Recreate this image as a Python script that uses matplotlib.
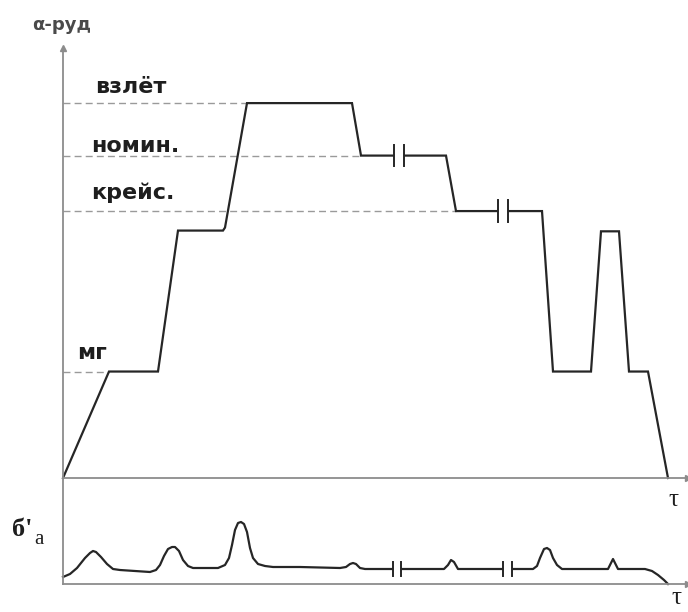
import numpy as np
import matplotlib
matplotlib.use("Agg")
import matplotlib.pyplot as plt

# ---- data ----
# throttle lever angle profile (time units, alpha units)
t_main = [0, 4.6, 9.5, 11.5, 16.0, 16.2, 18.4, 28.9, 29.8, 38.3, 39.3, 47.9, 49.0, 52.8, 53.8, 55.6, 56.6, 58.5, 60.5]
a_main = [0, 28.4, 28.4, 66.0, 66.0, 66.8, 100, 100, 86.0, 86.0, 71.2, 71.2, 28.4, 28.4, 65.8, 65.8, 28.4, 28.4, 0]

level_names = ["взлёт", "номин.", "крейс.", "мг"]
level_values = [100, 86.0, 71.2, 28.4]

main_breaks = [33.6, 43.95]

# stress response
t_low = [0, 0.7, 1.4, 2.2, 2.7, 3.0, 3.3, 3.8, 4.4, 5.0, 5.7, 7.2, 8.7, 9.3, 9.7, 10.1, 10.5, 10.9,
         11.2, 11.6, 12.0, 12.5, 13.0, 15.5, 16.2, 16.6, 16.9, 17.2, 17.5, 17.8, 18.1, 18.4, 18.7,
         19.0, 19.5, 20.2, 21.0, 23.7, 27.7, 28.3, 28.7, 29.0, 29.3, 29.7, 30.2, 38.1, 38.5, 38.8,
         39.1, 39.5, 47.0, 47.4, 47.7, 48.1, 48.4, 48.7, 49.0, 49.4, 49.9, 54.5, 54.8, 55.0, 55.2,
         55.5, 58.2, 58.9, 59.5, 60.1, 60.5]
s_low = [0.7, 1.0, 1.6, 2.6, 3.1, 3.3, 3.2, 2.7, 2.0, 1.5, 1.4, 1.3, 1.2, 1.4, 1.9, 2.8, 3.5, 3.7,
         3.7, 3.3, 2.4, 1.8, 1.6, 1.6, 1.9, 2.6, 3.9, 5.4, 6.1, 6.2, 6.0, 5.2, 3.6,
         2.6, 2.0, 1.8, 1.7, 1.7, 1.6, 1.7, 2.0, 2.1, 2.0, 1.6, 1.5, 1.5, 1.9, 2.4,
         2.2, 1.5, 1.5, 1.8, 2.6, 3.5, 3.6, 3.4, 2.6, 1.9, 1.5, 1.5, 2.1, 2.5, 2.1,
         1.5, 1.5, 1.3, 0.9, 0.4, 0.0]

low_breaks = [33.4, 44.45]

# ---- figure ----
W, H = 688, 612
fig = plt.figure(figsize=(W / 100, H / 100), dpi=100)
fig.patch.set_facecolor("white")

x0 = 63
ax = fig.add_axes([x0 / W, (H - 478) / H, (W - x0) / W, (478 - 48) / H])
axl = fig.add_axes([x0 / W, (H - 584) / H, (W - x0) / W, (584 - 478) / H])

axis_col = "#8c8c8c"
line_col = "#262626"
XMAX = 62.5

for a in (ax, axl):
    a.set_xlim(0, XMAX)
    for s in ("top", "right"):
        a.spines[s].set_visible(False)
    for s in ("left", "bottom"):
        a.spines[s].set_color(axis_col)
        a.spines[s].set_linewidth(1.3)
    a.set_xticks([])
    a.set_yticks([])
    a.patch.set_alpha(0)
    # x arrow head
    a.plot(1, 0, ">", transform=a.transAxes, color=axis_col, ms=4, clip_on=False)

ax.set_ylim(0, 114.7)
axl.set_ylim(0, 10.6)
ax.plot(0, 1, "^", transform=ax.transAxes, color=axis_col, ms=4, clip_on=False)

# main curve
t_main_a = np.array(t_main)
a_main_a = np.array(a_main)
ax.plot(t_main_a, a_main_a, color=line_col, lw=1.6, zorder=2,
        solid_joinstyle="miter", clip_on=False)

# dashed levels and labels
label_dy = {"взлёт": 4.3, "номин.": 2.5, "крейс.": 4.8, "мг": 4.9}
label_x = {"взлёт": 3.2, "номин.": 2.8, "крейс.": 2.8, "мг": 1.4}
for name, lvl in zip(level_names, level_values):
    idx = int(np.argmax(np.isclose(a_main_a, lvl)))
    ax.plot([0, t_main_a[idx]], [lvl, lvl], color="#9a9a9a", lw=1.0,
            dashes=(5, 3), zorder=1)
    ax.text(label_x[name], lvl + label_dy[name], name, fontsize=16,
            fontweight="bold", family="DejaVu Sans", color="#1e1e1e",
            va="center", ha="left")

def draw_breaks(a, tt, yy, centers, gap, hh):
    for c in centers:
        lvl = float(np.interp(c, tt, yy))
        a.plot([c - gap, c + gap], [lvl, lvl], color="white", lw=4, zorder=3,
               solid_capstyle="butt")
        for xb in (c - gap, c + gap):
            a.plot([xb, xb], [lvl - hh, lvl + hh], color=line_col, lw=1.4, zorder=4)

draw_breaks(ax, t_main, a_main, main_breaks, 0.5, 2.9)

# lower curve
axl.plot(t_low, s_low, color=line_col, lw=1.6, zorder=2, solid_joinstyle="round",
         clip_on=False)
draw_breaks(axl, t_low, s_low, low_breaks, 0.42, 0.7)

# labels
fig.text(32 / W, 1 - 25 / H, "α-руд", fontsize=13, fontweight="bold",
         color="#4a4a4a", ha="left", va="center", family="DejaVu Sans")
fig.text(668 / W, 1 - 500 / H, "τ", fontsize=18, color="#1e1e1e",
         ha="left", va="center", family="Liberation Serif")
fig.text(671 / W, 1 - 598 / H, "τ", fontsize=18, color="#1e1e1e",
         ha="left", va="center", family="Liberation Serif")
fig.text(12 / W, 1 - 530 / H, "б'", fontsize=19, fontweight="bold", color="#1e1e1e",
         ha="left", va="center", family="Liberation Serif")
fig.text(34 / W, 1 - 540 / H, "а", fontsize=15, color="#1e1e1e",
         ha="left", va="center", family="Liberation Serif")

fig.savefig("out.png", dpi=100, facecolor="white")
